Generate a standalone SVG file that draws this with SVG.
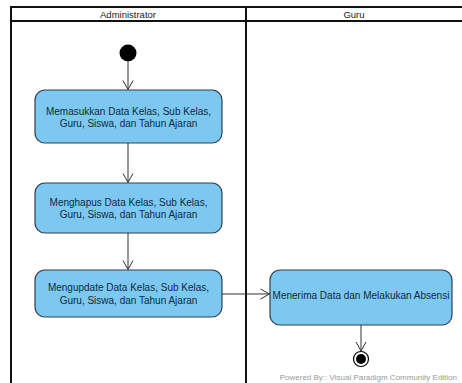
<svg xmlns="http://www.w3.org/2000/svg" width="462" height="383" viewBox="0 0 462 383">
<defs>
<marker id="arr" markerWidth="12" markerHeight="12" refX="10" refY="6" orient="auto" markerUnits="userSpaceOnUse">
<path d="M1,1 L10,6 L1,11" fill="none" stroke="#333" stroke-width="1"/>
</marker>
<style>
.lane{fill:none;stroke:#111;stroke-width:2}
.hdr{font-family:"Liberation Sans",Arial,sans-serif;font-size:9.5px;fill:#222;text-anchor:middle}
.act{fill:#7cc8f0;stroke:#2f4050;stroke-width:1.2}
.lbl{font-family:"Liberation Sans",Arial,sans-serif;font-size:10px;fill:#0f2a3f;text-anchor:middle}
.edge{fill:none;stroke:#333;stroke-width:1;marker-end:url(#arr)}
</style>
</defs>
<rect width="462" height="383" fill="#fff"/>
<g id="swimlanes">
<path class="lane" d="M11,383 L11,7 L463,7 M11,21 L463,21 M246,7 L246,383"/>
<text class="hdr" x="128" y="17.5">Administrator</text>
<text class="hdr" x="354" y="17.5">Guru</text>
</g>
<g id="start"><circle cx="128" cy="53" r="8.5" fill="#000"/></g>
<g id="a1">
<rect class="act" x="35" y="90" width="187" height="53" rx="10"/>
<text class="lbl" x="128.5" y="114.5">Memasukkan Data Kelas, Sub Kelas,</text>
<text class="lbl" x="128.5" y="127">Guru, Siswa, dan Tahun Ajaran</text>
</g>
<g id="a2">
<rect class="act" x="35" y="183" width="187" height="50" rx="10"/>
<text class="lbl" x="128.5" y="205.5">Menghapus Data Kelas, Sub Kelas,</text>
<text class="lbl" x="128.5" y="218">Guru, Siswa, dan Tahun Ajaran</text>
</g>
<g id="a3">
<rect class="act" x="35" y="270" width="187" height="47" rx="10"/>
<text class="lbl" x="128.5" y="291">Mengupdate Data Kelas, Sub Kelas,</text>
<text class="lbl" x="128.5" y="303.5">Guru, Siswa, dan Tahun Ajaran</text>
</g>
<g id="a4">
<rect class="act" x="270" y="270" width="182" height="55" rx="10"/>
<text class="lbl" x="361" y="298.5">Menerima Data dan Melakukan Absensi</text>
</g>
<g id="end">
<circle cx="361" cy="359" r="7.5" fill="#fff" stroke="#000" stroke-width="1.2"/>
<circle cx="361" cy="359" r="5" fill="#000"/>
</g>
<g id="connectors">
<path class="edge" d="M128,61.5 L128,89.5"/>
<path class="edge" d="M128,143 L128,182.5"/>
<path class="edge" d="M128,233 L128,269.5"/>
<path class="edge" d="M222,294 L269.5,294"/>
<path class="edge" d="M361,325 L361,351"/>
</g>
<text x="457" y="380" font-family="'Liberation Sans',Arial,sans-serif" font-size="8" fill="#999" text-anchor="end">Powered By:: Visual Paradigm Community Edition</text>
</svg>
